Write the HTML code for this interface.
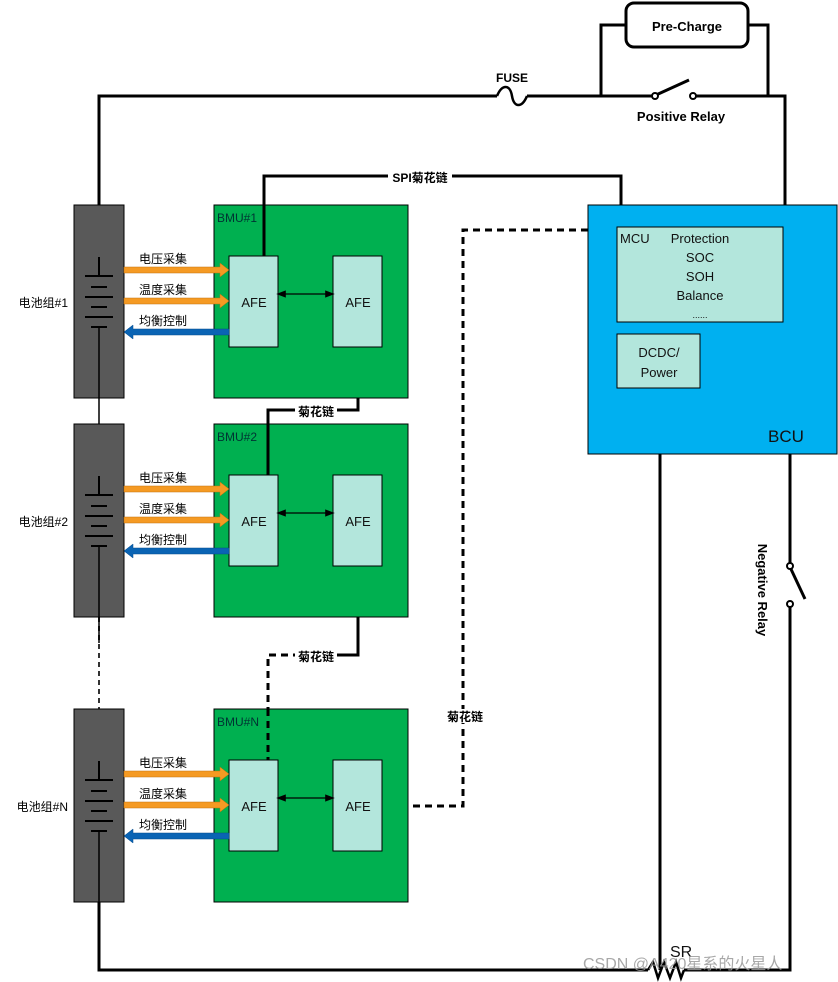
<!DOCTYPE html>
<html><head><meta charset="utf-8"><style>body{margin:0;background:#fff}svg{display:block}text{font-family:"Liberation Sans","Noto Sans CJK SC",sans-serif}</style></head><body>
<svg width="838" height="982" viewBox="0 0 838 982" xmlns="http://www.w3.org/2000/svg">
<defs>
<marker id="ah" markerWidth="8" markerHeight="8" refX="4" refY="4" orient="auto-start-reverse"><path d="M0,1 L8,4 L0,7Z" fill="#000"/></marker>
</defs>
<g stroke="#000" stroke-width="3" fill="none">
<polyline points="99,205 99,96 497,96"/>
<path d="M497,96 C502,84 510,84 512,96 C514,108 522,108 527,96" stroke-width="2.5"/>
<polyline points="527,96 655,96"/>
<polyline points="693,96 785,96 785,205"/>
<line x1="656" y1="95" x2="689" y2="80"/>
<polyline points="601,96 601,25 626,25"/>
<polyline points="748,25 768,25 768,96"/>
<rect x="626" y="3" width="122" height="44" rx="8"/>
<polyline points="264,256 264,176 621,176 621,205"/>
<polyline points="358,347 358,410 268,410 268,475"/>
<polyline points="358,566 358,655 300,655"/>
<polyline points="300,655 268,655 268,761" stroke-dasharray="7,5"/>
<polyline points="588,230 463,230 463,806 408,806" stroke-dasharray="7,5"/>
<polyline points="660,454 660,970"/>
<polyline points="790,454 790,565"/>
<line x1="790" y1="567" x2="805" y2="599"/>
<polyline points="790,603 790,970 684,970"/>
<polyline points="99,902 99,970 648,970"/>
<polyline points="648,970 653,962 658,978 664,962 670,978 676,962 681,978 684,970" stroke-width="2.5"/>
</g>
<circle cx="655" cy="96" r="3" fill="#fff" stroke="#000" stroke-width="2"/>
<circle cx="693" cy="96" r="3" fill="#fff" stroke="#000" stroke-width="2"/>
<circle cx="790" cy="566" r="3" fill="#fff" stroke="#000" stroke-width="2"/>
<circle cx="790" cy="604" r="3" fill="#fff" stroke="#000" stroke-width="2"/>
<line x1="99" y1="617" x2="99" y2="709" stroke="#333" stroke-width="2" stroke-dasharray="5,4"/>
<g fill="#fff">
<rect x="388" y="170" width="64" height="14"/>
<rect x="295" y="404" width="42" height="14"/>
<rect x="295" y="649" width="42" height="14"/>
<rect x="444" y="709" width="42" height="14"/>
</g>
<g font-weight="bold" font-size="13" fill="#000">
<text x="687" y="31" text-anchor="middle">Pre-Charge</text>
<text x="512" y="82" text-anchor="middle" font-size="12">FUSE</text>
<text x="681" y="121" text-anchor="middle">Positive Relay</text>
<text x="420" y="182" text-anchor="middle" font-size="12">SPI菊花链</text>
<text x="316" y="416" text-anchor="middle" font-size="12">菊花链</text>
<text x="316" y="661" text-anchor="middle" font-size="12">菊花链</text>
<text x="465" y="721" text-anchor="middle" font-size="12">菊花链</text>
<text x="0" y="0" transform="translate(758,590) rotate(90)" text-anchor="middle">Negative Relay</text>
</g>
<rect x="588" y="205" width="249" height="249" fill="#00b0f0" stroke="#000"/>
<rect x="617" y="227" width="166" height="95" fill="#b3e6dc" stroke="#000"/>
<rect x="617" y="334" width="83" height="54" fill="#b3e6dc" stroke="#000"/>
<g font-size="13" fill="#111">
<text x="620" y="243">MCU</text>
<text x="700" y="243" text-anchor="middle">Protection</text>
<text x="700" y="262" text-anchor="middle">SOC</text>
<text x="700" y="281" text-anchor="middle">SOH</text>
<text x="700" y="300" text-anchor="middle">Balance</text>
<text x="700" y="318" text-anchor="middle" font-size="9">......</text>
<text x="659" y="357" text-anchor="middle">DCDC/</text>
<text x="659" y="377" text-anchor="middle">Power</text>
<text x="768" y="442" font-size="17">BCU</text>
<text x="670" y="957" font-size="16">SR</text>
</g>
<rect x="74" y="205" width="50" height="193" fill="#595959" stroke="#000"/>
<rect x="214" y="205" width="194" height="193" fill="#00b050" stroke="#000"/>
<text x="217" y="222" font-size="12" fill="#033">BMU#1</text>
<rect x="74" y="424" width="50" height="193" fill="#595959" stroke="#000"/>
<rect x="214" y="424" width="194" height="193" fill="#00b050" stroke="#000"/>
<text x="217" y="441" font-size="12" fill="#033">BMU#2</text>
<rect x="74" y="709" width="50" height="193" fill="#595959" stroke="#000"/>
<rect x="214" y="709" width="194" height="193" fill="#00b050" stroke="#000"/>
<text x="217" y="726" font-size="12" fill="#033">BMU#N</text>
<line x1="268" y1="709" x2="268" y2="761" stroke="#000" stroke-width="3" stroke-dasharray="7,5"/>
<line x1="264" y1="205" x2="264" y2="256" stroke="#000" stroke-width="3"/>
<line x1="268" y1="424" x2="268" y2="475" stroke="#000" stroke-width="3"/>
<script>
(function(){
var ys=[205,424,709],names=["电池组#1","电池组#2","电池组#N"],ns="http://www.w3.org/2000/svg",s=document.querySelector("svg");
function el(t,a,txt){var e=document.createElementNS(ns,t);for(var k in a)e.setAttribute(k,a[k]);if(txt)e.textContent=txt;s.appendChild(e);return e;}
ys.forEach(function(y,i){
 var a=y+51;
 el("line",{x1:99,y1:y+52,x2:99,y2:y+71,stroke:"#000","stroke-width":2});
 [[71,14],[82,8],[92,14],[102,8],[112,14],[122,8]].forEach(function(p){el("line",{x1:99-p[1],y1:y+p[0],x2:99+p[1],y2:y+p[0],stroke:"#000","stroke-width":2});});
 el("line",{x1:99,y1:y+122,x2:99,y2:y+193,stroke:"#000","stroke-width":1.5});
 if(i<2) el("line",{x1:99,y1:y+193,x2:99,y2:y+219,stroke:"#000","stroke-width":1.5});
 el("text",{x:68,y:y+102,"font-size":12,"text-anchor":"end",fill:"#000"},names[i]);
 el("rect",{x:229,y:a,width:49,height:91,fill:"#b3e6dc",stroke:"#000"});
 el("rect",{x:333,y:a,width:49,height:91,fill:"#b3e6dc",stroke:"#000"});
 el("text",{x:254,y:a+51,"font-size":13,"text-anchor":"middle",fill:"#111"},"AFE");
 el("text",{x:358,y:a+51,"font-size":13,"text-anchor":"middle",fill:"#111"},"AFE");
 el("line",{x1:281,y1:a+38,x2:330,y2:a+38,stroke:"#000","stroke-width":1.2,"marker-start":"url(#ah)","marker-end":"url(#ah)"});
 [[14,"电压采集"],[45,"温度采集"]].forEach(function(p){
  el("path",{d:"M124,"+(a+p[0]-3)+" L220,"+(a+p[0]-3)+" L220,"+(a+p[0]-7)+" L229,"+(a+p[0])+" L220,"+(a+p[0]+7)+" L220,"+(a+p[0]+3)+" L124,"+(a+p[0]+3)+"Z",fill:"#f59a23",stroke:"#c07010","stroke-width":0.5});
  el("text",{x:139,y:a+p[0]-7,"font-size":12,fill:"#000"},p[1]);
 });
 var b=a+76;
 el("path",{d:"M229,"+(b-3)+" L133,"+(b-3)+" L133,"+(b-7)+" L124,"+b+" L133,"+(b+7)+" L133,"+(b+3)+" L229,"+(b+3)+"Z",fill:"#0a64b4",stroke:"#064a8a","stroke-width":0.5});
 el("text",{x:139,y:b-7,"font-size":12,fill:"#000"},"均衡控制");
});
})();
</script>
<text x="583" y="969" font-size="16" fill="#9a9a9a" opacity="0.85">CSDN @A420星系的火星人</text>
</svg>
</body></html>
